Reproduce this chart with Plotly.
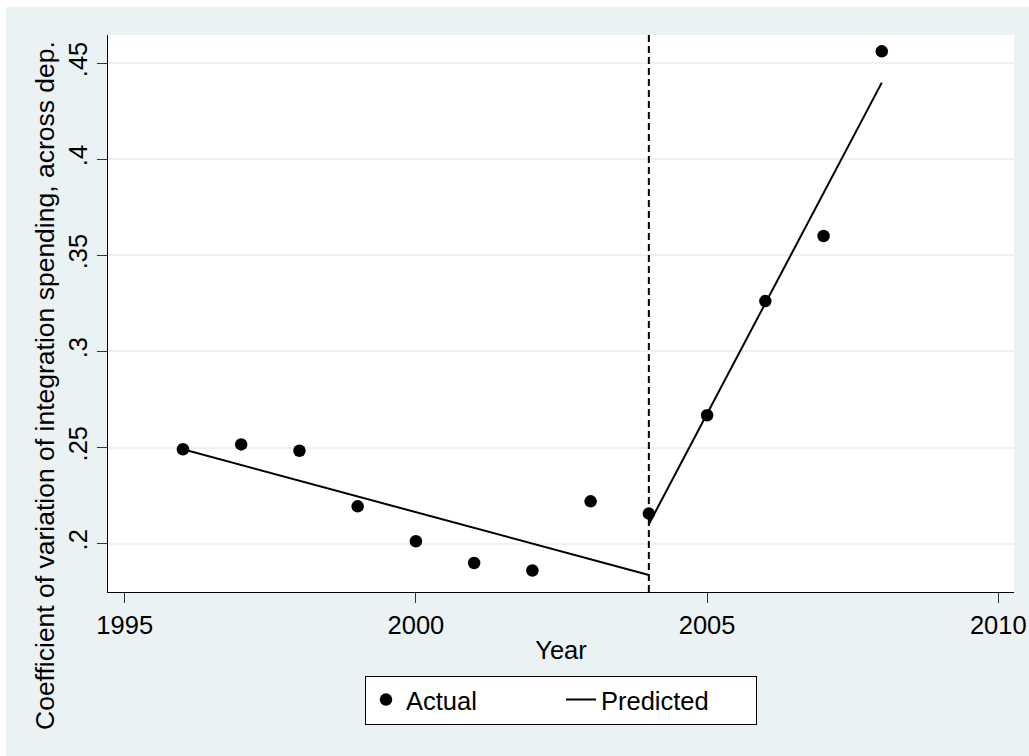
import plotly.graph_objects as go

# Data
years = [1996, 1997, 1998, 1999, 2000, 2001, 2002, 2003, 2004, 2005, 2006, 2007, 2008]
actual = [0.2491, 0.2516, 0.2483, 0.2194, 0.2012, 0.1899, 0.1860, 0.2220, 0.2156,
          0.2668, 0.3262, 0.3601, 0.4562]

pred_years_pre = [1996, 1997, 1998, 1999, 2000, 2001, 2002, 2003, 2004]
pred_pre = [0.2491, 0.2409, 0.2327, 0.2245, 0.2163, 0.2082, 0.2000, 0.1918, 0.1836]
pred_years_post = [2004, 2005, 2006, 2007, 2008]
pred_post = [0.2101, 0.2676, 0.3250, 0.3825, 0.4399]

break_year = 2004

y_ticks = [0.2, 0.25, 0.3, 0.35, 0.4, 0.45]
y_tick_text = [".2", ".25", ".3", ".35", ".4", ".45"]
x_ticks = [1995, 2000, 2005, 2010]
x_tick_text = ["1995", "2000", "2005", "2010"]

BG = "#EAF2F3"
FONT = "Liberation Sans, Arial, sans-serif"
FS = 25.5

fig = go.Figure()
fig.add_trace(go.Scatter(
    x=years, y=actual, mode="markers", name="Actual",
    marker=dict(color="black", size=12.5, symbol="circle"),
))
fig.add_trace(go.Scatter(
    x=pred_years_pre + [None] + pred_years_post,
    y=pred_pre + [None] + pred_post,
    mode="lines", name="Predicted",
    line=dict(color="black", width=2),
    connectgaps=False,
))

# plot area in pixels: x 108..1014, y 35..592
L, R, T, B = 108, 1014, 35, 592
W, H = 1029, 756
pw, ph = R - L, B - T

def px_x(p):
    return (p - L) / pw

def px_y(p):
    return (B - p) / ph

shapes = [
    dict(type="rect", xref="paper", yref="paper", layer="below",
         x0=px_x(6), x1=px_x(W + 2), y0=px_y(H + 2), y1=px_y(7),
         fillcolor=BG, line=dict(width=0)),
    dict(type="rect", xref="paper", yref="paper", layer="below",
         x0=0, x1=1, y0=0, y1=1, fillcolor="white", line=dict(width=0)),
    dict(type="line", xref="x", yref="paper", x0=break_year, x1=break_year,
         y0=0, y1=1, line=dict(color="black", width=2, dash="7px,4px")),
]

fig.update_layout(
    width=W, height=H, autosize=False,
    margin=dict(l=L, r=W - R, t=T, b=H - B, pad=0, autoexpand=False),
    paper_bgcolor="white", plot_bgcolor="white",
    font=dict(family=FONT, size=FS, color="black"),
    shapes=shapes,
    showlegend=True,
    legend=dict(
        orientation="h", x=0.5, xanchor="center", y=px_y(700), yanchor="middle",
        bgcolor="white", bordercolor="black", borderwidth=1,
        font=dict(family=FONT, size=FS, color="black"),
        entrywidth=150, itemwidth=30,
    ),
    annotations=[dict(
        text="Coefficient of variation of integration spending, across dep.",
        xref="paper", yref="paper", x=px_x(45), y=px_y(386),
        xanchor="center", yanchor="middle", textangle=-90, showarrow=False,
        font=dict(family=FONT, size=26.5, color="black"),
    )],
)

fig.update_xaxes(
    range=[1994.713, 2010.27], tickvals=x_ticks, ticktext=x_tick_text,
    automargin=False,
    showgrid=False, zeroline=False, showline=True, linecolor="black", linewidth=1,
    ticks="outside", ticklen=10, tickcolor="#333333", tickwidth=1,
    title=dict(text="Year", standoff=3, font=dict(family=FONT, size=FS, color="black")),
)
fig.update_yaxes(
    range=[0.1748, 0.4647], tickvals=y_ticks, ticktext=y_tick_text, tickangle=-90,
    automargin=False,
    showgrid=True, gridcolor=BG, gridwidth=2, zeroline=False,
    showline=True, linecolor="black", linewidth=1,
    ticks="outside", ticklen=10, tickcolor="#333333", tickwidth=1,
)

fig.write_html(
    "out.html",
    config={"displayModeBar": False},
    post_script="document.body.style.margin='0';document.body.style.overflow='hidden';",
)
